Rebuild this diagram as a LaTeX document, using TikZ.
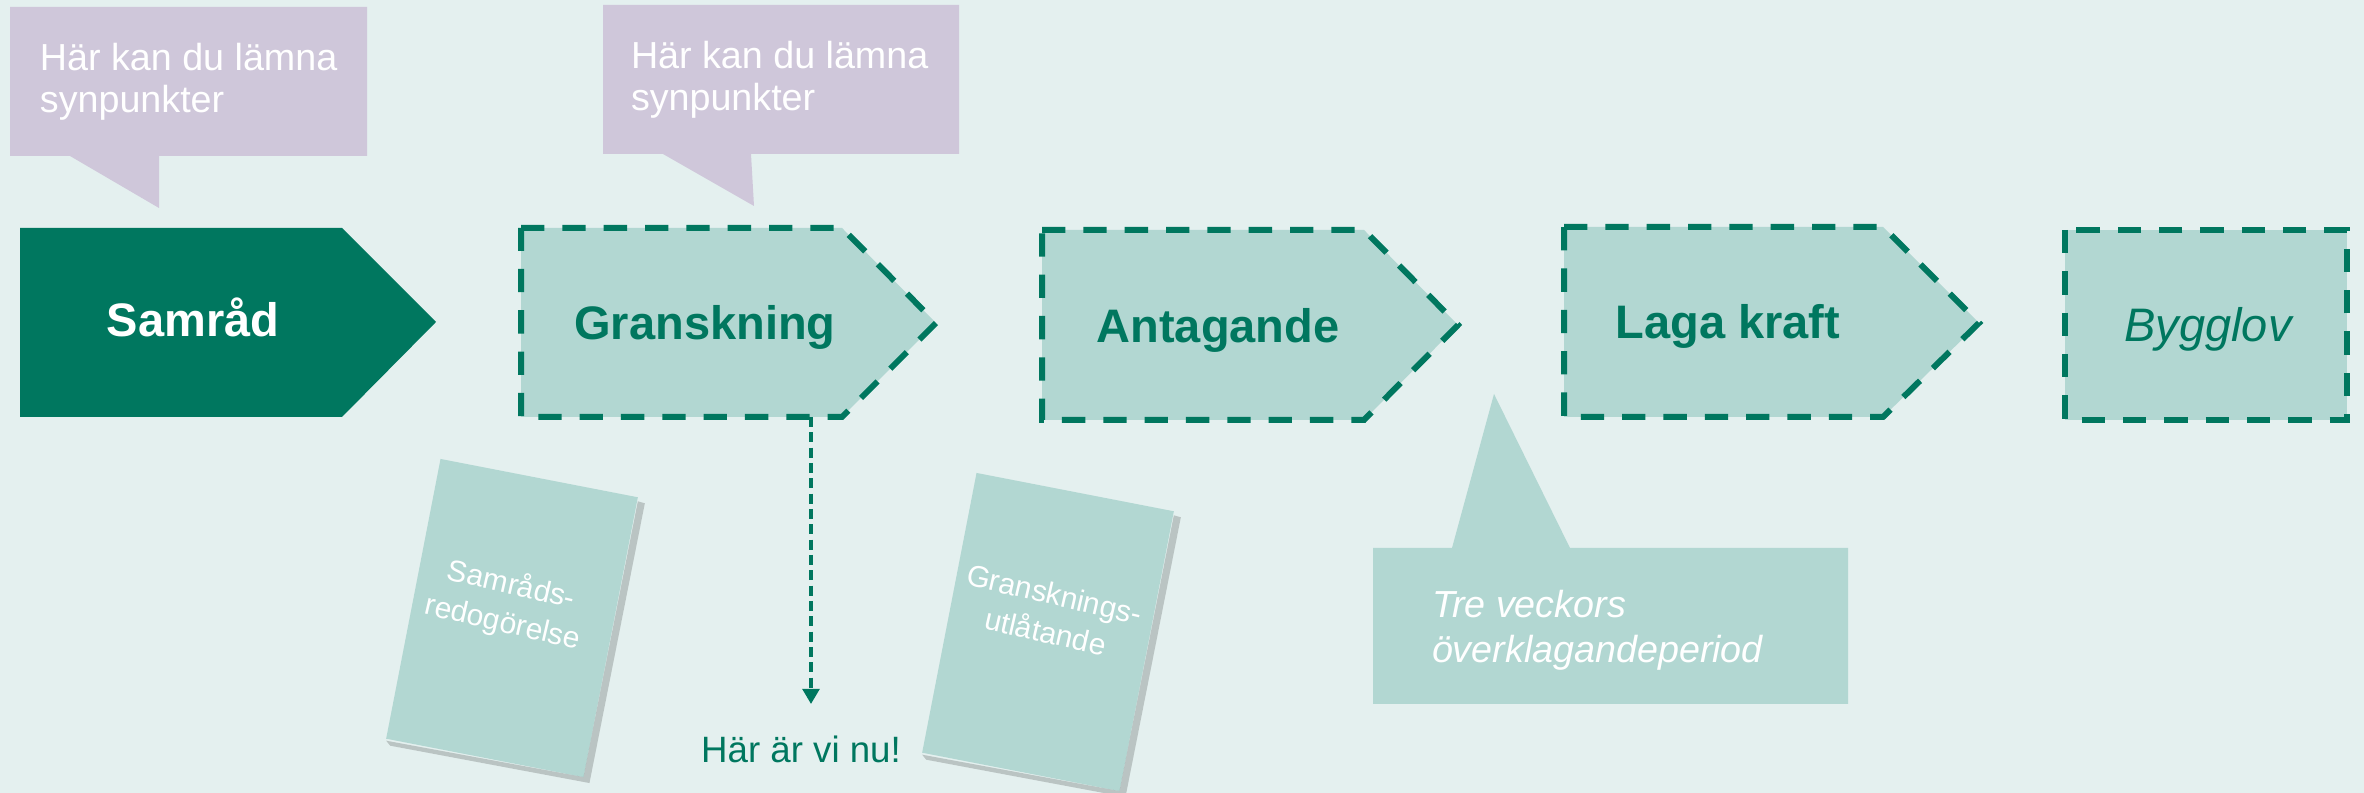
\documentclass[tikz,border=0pt]{standalone}
\usepackage{fontspec}
\setmainfont{Liberation Sans}
\usetikzlibrary{arrows.meta,calc}
\definecolor{bg}{RGB}{228,240,239}
\definecolor{lila}{RGB}{207,199,218}
\definecolor{ljus}{RGB}{178,215,210}
\definecolor{mork}{RGB}{0,119,95}
\begin{document}
\begin{tikzpicture}[x=0.3pt,y=-0.3pt,
  every node/.style={inner sep=0pt,outer sep=0pt},
  bubble/.style={fill=lila},
  bubtext/.style={text=white,align=left,font=\fontsize{11.3pt}{12.6pt}\selectfont},
  stage/.style={fill=ljus,draw=mork,line width=1.8pt,dash pattern=on 7pt off 5.4pt},
  title/.style={font=\fontsize{14.1pt}{16pt}\selectfont\bfseries},
  doc/.style={fill=ljus,rotate=-11,minimum width=60.3pt,minimum height=85.5pt},
  doctext/.style={text=white,align=center,rotate=-13,font=\fontsize{9pt}{11.6pt}\selectfont},
  pil/.style={draw=mork,line width=1pt,dash pattern=on 3pt off 1.6pt,-{Triangle[length=4.5pt,width=5pt]}}
]
\fill[bg] (0,0) rectangle (2364,793);
\useasboundingbox (0,0) rectangle (2364,793);

% speech bubbles
\fill[bubble] (10,7) -- (367,7) -- (367,156) -- (159,156) -- (159,208) -- (70,156) -- (10,156) -- cycle;
\node[bubtext,anchor=north west] (b1) at (40,43) {Här kan du lämna\\synpunkter};
\fill[bubble] (603,5) -- (959,5) -- (959,154) -- (751,154) -- (754,206) -- (663,154) -- (603,154) -- cycle;
\node[bubtext,anchor=north west] (b2) at (631,41) {Här kan du lämna\\synpunkter};

% stages
\fill[mork] (20,228) -- (342,228) -- (436,322) -- (342,417) -- (20,417) -- cycle;
\node[title,text=white,anchor=base] (samrad) at (193,337) {Samråd};

\path[stage] (521,228) -- (842,228) -- (936,323) -- (842,417) -- (521,417) -- cycle;
\node[title,text=mork,anchor=base] (gransk) at (705,340) {Granskning};

\path[stage] (1042,230) -- (1364,230) -- (1458,325) -- (1364,420) -- (1042,420) -- cycle;
\node[title,text=mork,anchor=base] (antag) at (1218,343) {Antagande};

\path[stage] (1564,227) -- (1883,227) -- (1979,323) -- (1883,417) -- (1564,417) -- cycle;
\node[title,text=mork,anchor=base] (laga) at (1728,339) {Laga kraft};

\path[stage] (2065,230) rectangle (2347,420);
\node[font=\fontsize{14.1pt}{16pt}\selectfont\itshape,text=mork,anchor=base] (bygg) at (2208,342) {Bygglov};

% appeal bubble
\fill[ljus] (1373,548) -- (1452,548) -- (1494,394) -- (1570,548) -- (1848,548) -- (1848,704) -- (1373,704) -- cycle;
\node[text=white,align=left,anchor=north west,font=\fontsize{11.3pt}{13.5pt}\selectfont\itshape] (tre) at (1432,590) {Tre veckors\\överklagandeperiod};

% documents
\node[doc] (d1) at (512,618) {};
\fill[black,opacity=.18] ($(d1.north east)+(0,4)$) -- ($(d1.north east)+(7,6)$) -- ($(d1.south east)+(6,6)$) -- ($(d1.south west)+(4,7)$) -- ($(d1.south west)+(0,2)$) -- (d1.south east) -- cycle;
\node[doctext] (d1t) at (507,604) {Samråds-\\redogörelse};

\node[doc] (d2) at (1048,632) {};
\fill[black,opacity=.18] ($(d2.north east)+(0,4)$) -- ($(d2.north east)+(7,6)$) -- ($(d2.south east)+(6,6)$) -- ($(d2.south west)+(4,7)$) -- ($(d2.south west)+(0,2)$) -- (d2.south east) -- cycle;
\node[doctext] (d2t) at (1050,613) {Gransknings-\\utlåtande};

% we are here
\coordinate (gb) at (811,417);
\coordinate (pilend) at (811,704);
\draw[pil] (gb) -- (pilend);
\node[text=mork,anchor=base,font=\fontsize{11pt}{13pt}\selectfont] (nu) at (801,763) {Här är vi nu!};
\end{tikzpicture}
\end{document}
